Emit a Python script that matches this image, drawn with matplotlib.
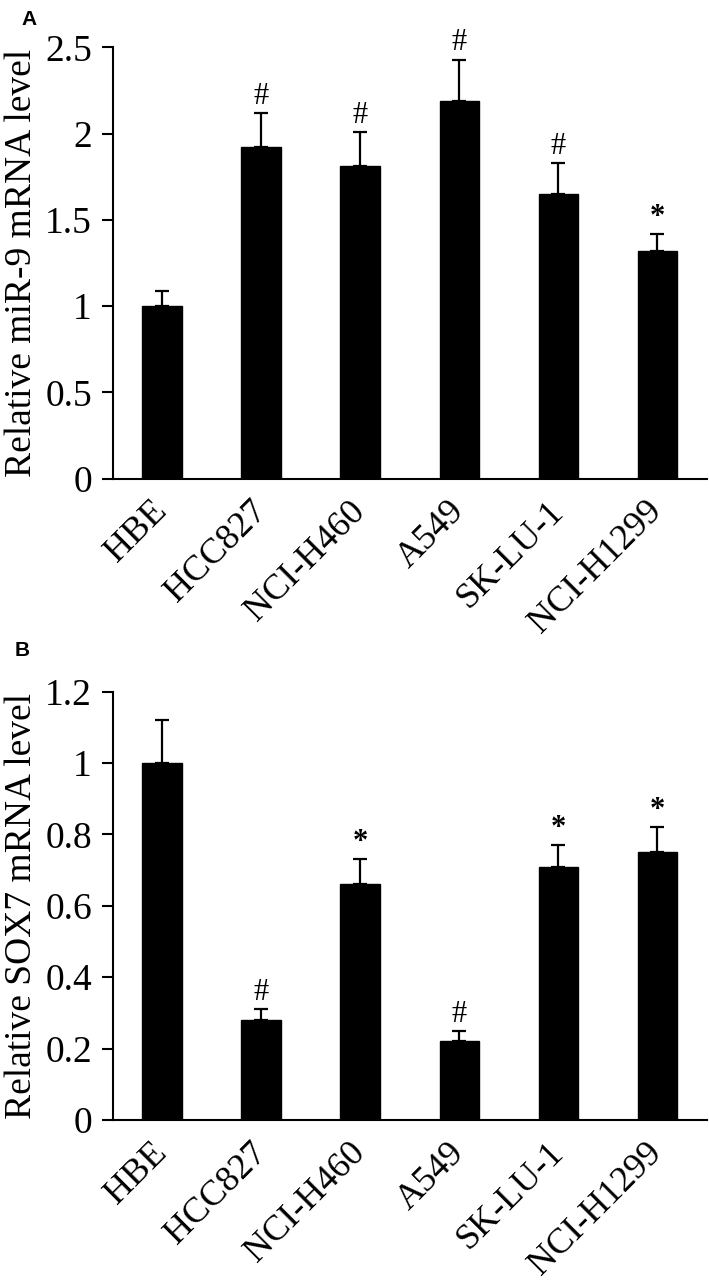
import matplotlib
matplotlib.use("Agg")
import matplotlib.pyplot as plt
import numpy as np

cells = ["HBE", "HCC827", "NCI-H460", "A549", "SK-LU-1", "NCI-H1299"]

mir9_mean = [1.00, 1.92, 1.81, 2.19, 1.65, 1.32]
mir9_err = [0.09, 0.20, 0.20, 0.24, 0.18, 0.10]
mir9_mark = ["", "#", "#", "#", "#", "*"]

sox7_mean = [1.00, 0.28, 0.66, 0.22, 0.71, 0.75]
sox7_err = [0.12, 0.03, 0.07, 0.03, 0.06, 0.07]
sox7_mark = ["", "#", "*", "#", "*", "*"]

plt.rcParams['font.family'] = ['Liberation Serif', 'DejaVu Serif']


def draw_panel(ax, means, errs, marks, ymax, step, ylabel):
    x = np.arange(len(cells))
    ax.bar(x, means, width=0.4, color="black", edgecolor="black")
    ax.errorbar(x, means, yerr=[np.zeros(len(errs)), errs], fmt="none",
                ecolor="black", elinewidth=1.6, capsize=5, capthick=1.6)
    for xi, m, e, s in zip(x, means, errs, marks):
        if s == "*":
            ax.text(xi, m + e + ymax * 0.005, s, ha="center", va="bottom",
                    fontsize=22, fontweight="bold")
        elif s:
            ax.text(xi, m + e + ymax * 0.005, s, ha="center", va="bottom",
                    fontsize=22)
    ax.set_xlim(-0.5, len(cells) - 0.5)
    ax.set_ylim(0, ymax)
    ticks = np.arange(0, ymax + step / 2, step)
    ax.set_yticks(ticks)
    ax.set_yticklabels([("%g" % v) for v in ticks])
    ax.set_xticks(x)
    ax.set_xticklabels(cells, rotation=45, ha="right", va="center",
                       rotation_mode="anchor")
    ax.tick_params(axis="x", length=0, pad=20, labelsize=26)
    ax.tick_params(axis="y", length=8, width=1.5, pad=7, labelsize=27)
    for sp in ["top", "right"]:
        ax.spines[sp].set_visible(False)
    ax.spines["left"].set_linewidth(1.5)
    ax.spines["bottom"].set_linewidth(1.5)
    ax.set_ylabel(ylabel, fontsize=27, labelpad=4)


fig = plt.figure(figsize=(7.09, 12.83), dpi=100)
ax1 = fig.add_axes([0.159, 0.627, 0.838, 0.336])
ax2 = fig.add_axes([0.159, 0.127, 0.838, 0.334])

draw_panel(ax1, mir9_mean, mir9_err, mir9_mark, 2.5, 0.5, "Relative miR-9 mRNA level")
draw_panel(ax2, sox7_mean, sox7_err, sox7_mark, 1.2, 0.2, "Relative SOX7 mRNA level")

fig.text(0.031, 0.992, "A", fontsize=15, fontweight="bold", family="Liberation Sans", va="top")
fig.text(0.021, 0.500, "B", fontsize=15, fontweight="bold", family="Liberation Sans", va="top")

fig.savefig("out.png", dpi=100)
